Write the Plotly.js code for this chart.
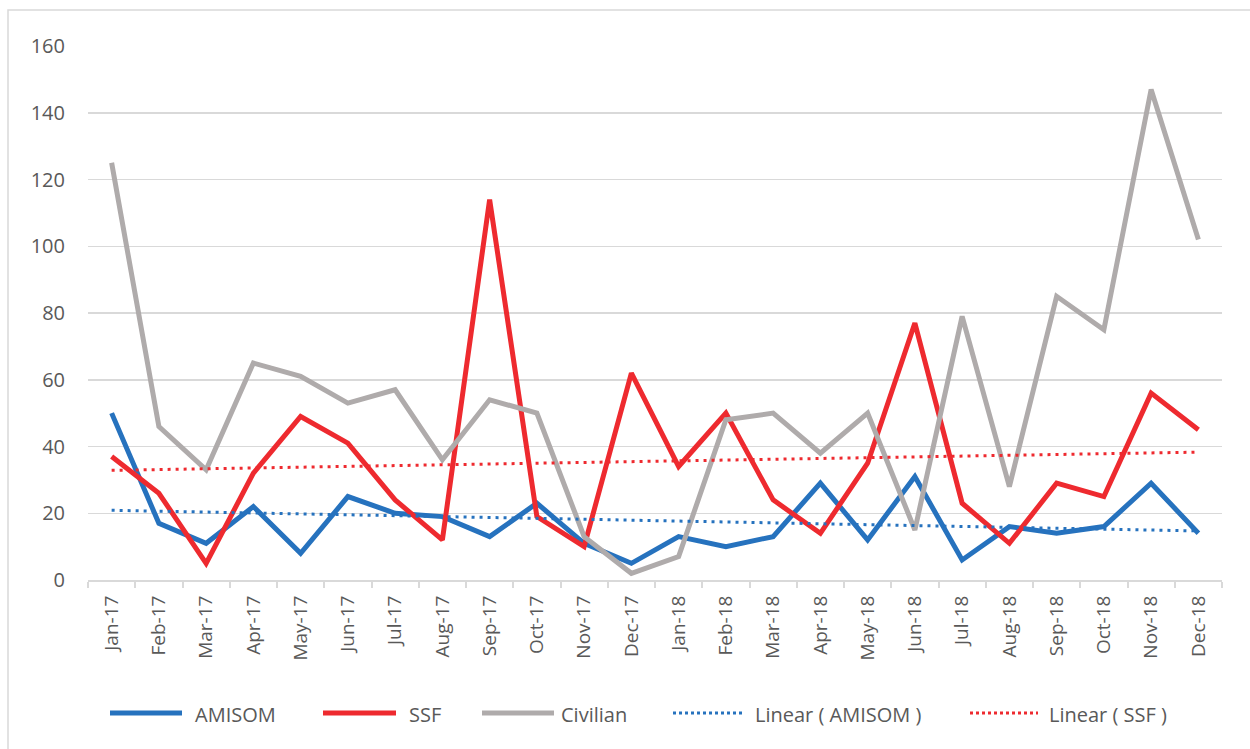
<!DOCTYPE html>
<html>
<head>
<meta charset="utf-8">
<script src="https://cdn.plot.ly/plotly-3.0.1.min.js"></script>
<style>html,body{margin:0;padding:0;background:#fff;}#chart{width:1250px;height:749px;}</style>
</head>
<body>
<div id="chart"></div>
<script>
var months = ["Jan-17","Feb-17","Mar-17","Apr-17","May-17","Jun-17","Jul-17","Aug-17","Sep-17","Oct-17","Nov-17","Dec-17",
              "Jan-18","Feb-18","Mar-18","Apr-18","May-18","Jun-18","Jul-18","Aug-18","Sep-18","Oct-18","Nov-18","Dec-18"];
var amisom   = [50,17,11,22,8,25,20,19,13,23,11,5,13,10,13,29,12,31,6,16,14,16,29,14];
var ssf      = [37,26,5,32,49,41,24,12,114,19,10,62,34,50,24,14,35,77,23,11,29,25,56,45];
var civilian = [125,46,33,65,61,53,57,36,54,50,13,2,7,48,50,38,50,15,79,28,85,75,147,102];
var yTicks = [0,20,40,60,80,100,120,140,160];

function linearFit(vals){
  var n = vals.length, sx=0, sy=0, sxy=0, sxx=0;
  for (var i=0;i<n;i++){ sx+=i; sy+=vals[i]; sxy+=i*vals[i]; sxx+=i*i; }
  var b = (n*sxy - sx*sy)/(n*sxx - sx*sx), a = (sy - b*sx)/n;
  return vals.map(function(_,i){ return a + b*i; });
}

var C_AM = "#2672BE", C_SSF = "#EE2A2F", C_CIV = "#AFABAB", TXT = "#595959";

var traces = [
  {x: months, y: amisom, name: "AMISOM", mode: "lines", line: {color: C_AM, width: 5}},
  {x: months, y: ssf, name: "SSF", mode: "lines", line: {color: C_SSF, width: 5}},
  {x: months, y: civilian, name: "Civilian", mode: "lines", line: {color: C_CIV, width: 5}},
  {x: months, y: linearFit(amisom), name: "Linear ( AMISOM )", mode: "lines", line: {color: C_AM, width: 3, dash: "3px,5px"}},
  {x: months, y: linearFit(ssf), name: "Linear ( SSF )", mode: "lines", line: {color: C_SSF, width: 3, dash: "3px,5px"}}
];

// custom legend layout (pixel positions converted to paper coords)
var L = 88, R = 1222, T = 46, B = 580;
function px(x){ return (x - L)/(R - L); }
function py(y){ return (B - y)/(B - T); }
var legendItems = [
  {name: "AMISOM", color: C_AM, w: 5, dash: "solid", x0: 110, x1: 182, tx: 193},
  {name: "SSF", color: C_SSF, w: 5, dash: "solid", x0: 323, x1: 396, tx: 407},
  {name: "Civilian", color: C_CIV, w: 5, dash: "solid", x0: 482, x1: 554, tx: 559},
  {name: "Linear ( AMISOM )", color: C_AM, w: 3, dash: "dot", x0: 673, x1: 744, tx: 753},
  {name: "Linear ( SSF )", color: C_SSF, w: 3, dash: "dot", x0: 970, x1: 1038, tx: 1047}
];
var shapes = [{type: "rect", xref: "paper", yref: "paper", x0: px(8), x1: px(1262), y0: py(760), y1: py(10),
               line: {color: "#d9d9d9", width: 1.5}, fillcolor: "rgba(0,0,0,0)", layer: "below"}];
var annotations = [];
legendItems.forEach(function(it){
  shapes.push({type: "line", xref: "paper", yref: "paper", x0: px(it.x0), x1: px(it.x1), y0: py(713), y1: py(713),
               line: {color: it.color, width: it.w, dash: it.dash}});
  annotations.push({xref: "paper", yref: "paper", x: px(it.tx), y: py(714), xanchor: "left", yanchor: "middle",
                    text: it.name, showarrow: false, font: {family: "Open Sans", size: 20, color: TXT}});
});

var layout = {
  width: 1250, height: 749,
  margin: {l: L, r: 1250 - R, t: T, b: 749 - B},
  paper_bgcolor: "#fff", plot_bgcolor: "#fff",
  showlegend: false,
  font: {family: "Open Sans", color: TXT},
  xaxis: {
    type: "category", range: [-0.5, months.length - 0.5], tickson: "boundaries", ticks: "outside", ticklen: 6, tickwidth: 2, tickcolor: "#d9d9d9",
    showline: true, linecolor: "#d9d9d9", linewidth: 2, showgrid: false, tickangle: -90,
    tickfont: {family: "Open Sans", size: 19, color: TXT}, ticklabelstandoff: 6
  },
  yaxis: {
    range: [0, 160], tickvals: yTicks, showgrid: true, gridcolor: "#d9d9d9", gridwidth: 1.5,
    zeroline: false, showline: false, ticks: "", ticklabelstandoff: 22,
    tickfont: {family: "Open Sans", size: 20, color: TXT}
  },
  shapes: shapes,
  annotations: annotations
};

Plotly.newPlot("chart", traces, layout, {displayModeBar: false, staticPlot: true});
</script>
</body>
</html>
